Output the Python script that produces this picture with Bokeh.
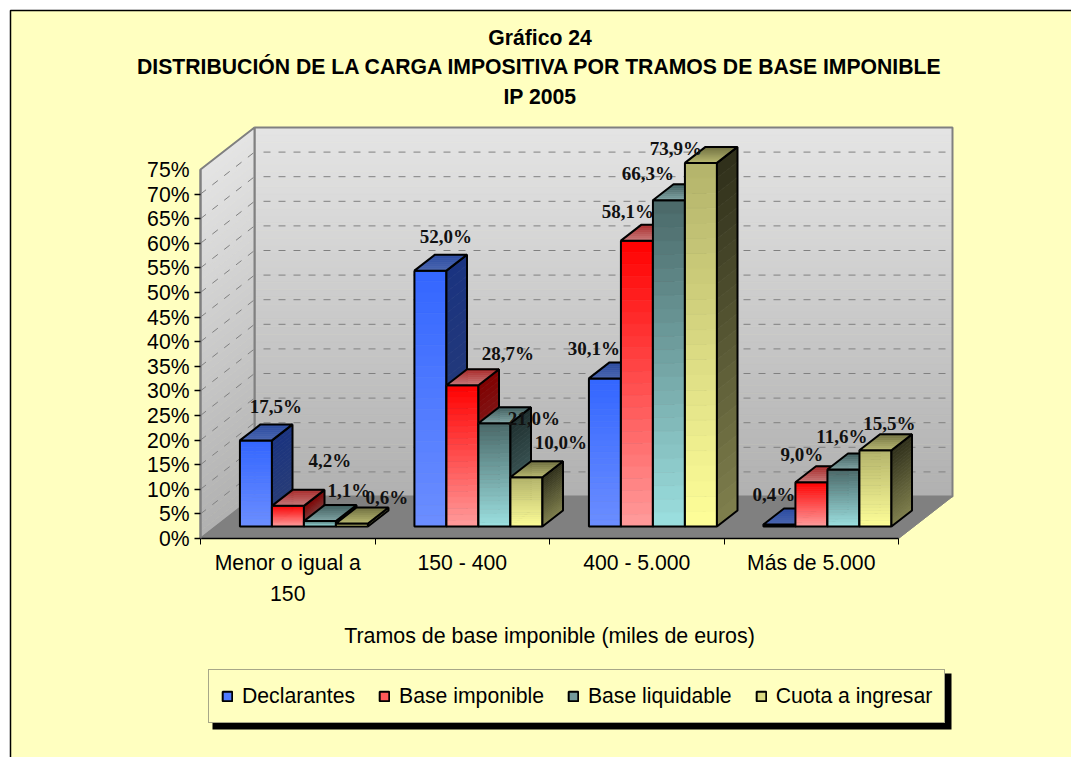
from bokeh.plotting import figure
from bokeh.models import (Range1d, FixedTicker, LinearAxis, Legend, LegendItem, Label,
                          ColumnDataSource)
from bokeh.core.properties import value
from bokeh.embed import file_html
from bokeh.resources import INLINE

# ---- data ----
title_lines = ["Gráfico 24",
               "DISTRIBUCIÓN DE LA CARGA IMPOSITIVA POR TRAMOS DE BASE IMPONIBLE",
               "IP 2005"]
categories = ["Menor o igual a\n150", "150 - 400", "400 - 5.000", "Más de 5.000"]
series_names = ["Declarantes", "Base imponible", "Base liquidable", "Cuota a ingresar"]
declarantes = [17.5, 52.0, 30.1, 0.4]
base_imponible = [4.2, 28.7, 58.1, 9.0]
base_liquidable = [1.1, 21.0, 66.3, 11.6]
cuota_ingresar = [0.6, 10.0, 73.9, 15.5]
series = [declarantes, base_imponible, base_liquidable, cuota_ingresar]
y_ticks = list(range(0, 75, 5))
y_top_tick = 75
x_title = "Tramos de base imponible (miles de euros)"

# ---- style / layout ----
W, H = 1071, 757
PAGE = 0
X0, XS = 200.0, 174.5      # page x of category 0, px per category
Y0, YS = 538.0, 4.92       # page y of 0 %, px per %
DX, DY = 54 / XS, 42 / YS  # full depth of the box, in data units
BAR_W, BAR_GAP = 32 / XS, 24 / XS
D0, D1 = 12 / 42, 28 / 42  # bar depth extent
BG = "#FFFFC0"
FONT = "Liberation Sans"
SIZE = "21.2px"
# (front top, front bottom, side top, side bottom, top back, top front)
PALETTE = [
    ("#3366FF", "#6C8EFF", "#1A3380", "#2B3F75", "#2A4AA0", "#4A66B0"),
    ("#FF0000", "#FF9C9C", "#800000", "#804848", "#A82828", "#C87878"),
    ("#4A6868", "#9CE0E0", "#1E2E2E", "#4E7070", "#3E5C5C", "#80A4A4"),
    ("#B3B36B", "#FFFF99", "#2E2E1A", "#80804D", "#6E6E40", "#B8B870"),
]
SWATCH = ["#4F7AFF", "#FF5858", "#739A9A", "#D9D982"]
# label offsets from the bar's top centre, in screen px
LABEL_DX = [20, 42, 29, 35, 15.5, 45.5, 39.5, 34.5, -11, -9, -21, -25, -5.5, -9.5, -1.5, 14]
LABEL_DY = [-34, -45, -31, -26, -34, -32, -4.5, -35, -30, -29, -27, -14, -30, -28, -33, -27]


def px(page_x):
    return (page_x - X0) / XS


def py(page_y):
    return (Y0 - page_y) / YS


def proj(x, v, d):
    return x + d * DX, v + d * DY


def mix(c0, c1, t):
    a = [int(c0[i:i + 2], 16) for i in (1, 3, 5)]
    b = [int(c1[i:i + 2], 16) for i in (1, 3, 5)]
    return "#%02X%02X%02X" % tuple(round(p + (q - p) * t) for p, q in zip(a, b))


polys = dict(xs=[], ys=[], fill=[], alpha=[], line=[], lw=[])


def add_poly(pts, fill, alpha, line, lw):
    polys["xs"].append([p[0] for p in pts])
    polys["ys"].append([p[1] for p in pts])
    polys["fill"].append(fill)
    polys["alpha"].append(alpha)
    polys["line"].append(line)
    polys["lw"].append(lw)


def lerp(a, b, t):
    return (a[0] + (b[0] - a[0]) * t, a[1] + (b[1] - a[1]) * t)


def face(a, b, c, d, c_ab, c_dc, n, outline="black", lw=2):
    """quad a-b-c-d, colour going from edge d-c (c_dc) to edge a-b (c_ab)."""
    for k in range(n):
        t0, t1 = k / n, (k + 1) / n
        col = mix(c_ab, c_dc, (t0 + t1) / 2)
        add_poly([lerp(a, d, t0), lerp(b, c, t0), lerp(b, c, t1), lerp(a, d, t1)], col, 1, col, 0.7)
    if outline:
        add_poly([a, b, c, d], "#000000", 0, outline, lw)


# ---- figure: the frame covers the whole canvas ----
p = figure(width=W, height=H, output_backend="svg", toolbar_location=None,
           x_range=Range1d(px(PAGE), px(PAGE + W)), y_range=Range1d(py(PAGE + H), py(PAGE)),
           min_border=0, outline_line_color=None, background_fill_color="white",
           border_fill_color="white", x_axis_type=None, y_axis_type=None)
p.grid.visible = False

# sheet
p.quad(left=[px(10)], right=[px(1100)], top=[py(10)], bottom=[py(800)],
       fill_color=BG, line_color="#000000", line_width=1.5)

# walls and floor
GRAY = "#808080"
TOP = 75
NCAT = len(categories)
face(proj(0, TOP, 1), proj(NCAT, TOP, 1), proj(NCAT, 0, 1), proj(0, 0, 1), "#E5E5E5", "#B0B0B0", 50, GRAY, 2)
face(proj(0, TOP, 0), proj(0, TOP, 1), proj(0, 0, 1), proj(0, 0, 0), "#E5E5E5", "#B0B0B0", 50, GRAY, 2)
face(proj(0, 0, 0), proj(NCAT, 0, 0), proj(NCAT, 0, 1), proj(0, 0, 1), GRAY, GRAY, 1, GRAY, 1)
walls = ColumnDataSource(polys)
p.patches("xs", "ys", source=walls, fill_color="fill", fill_alpha="alpha",
          line_color="line", line_width="lw")

# grid lines on the walls
grid_vals = y_ticks[1:]
p.multi_line([[proj(0, v, 0)[0], proj(0, v, 1)[0]] for v in grid_vals],
             [[proj(0, v, 0)[1], proj(0, v, 1)[1]] for v in grid_vals],
             line_color=GRAY, line_width=1, line_dash="7 8")
p.multi_line([[proj(0, v, 1)[0] + 9 / XS, proj(NCAT, v, 1)[0]] for v in grid_vals],
             [[proj(0, v, 1)[1], proj(NCAT, v, 1)[1]] for v in grid_vals],
             line_color=GRAY, line_width=1, line_dash="7 8")

# bars, painted left to right
polys = dict(xs=[], ys=[], fill=[], alpha=[], line=[], lw=[])
lab_x, lab_y, lab_t = [], [], []
for i in range(NCAT):
    for s, vals in enumerate(series):
        v = vals[i]
        c = PALETTE[s]
        x0 = i + BAR_GAP + s * BAR_W
        x1 = x0 + BAR_W
        face(proj(x0, v, D0), proj(x1, v, D0), proj(x1, 0, D0), proj(x0, 0, D0), c[0], c[1], 24)
        face(proj(x1, v, D0), proj(x1, v, D1), proj(x1, 0, D1), proj(x1, 0, D0), c[2], c[3], 24)
        face(proj(x0, v, D1), proj(x1, v, D1), proj(x1, v, D0), proj(x0, v, D0), c[4], c[5], 8)
        ax, ay = proj((x0 + x1) / 2, v, D0)
        lab_x.append(ax)
        lab_y.append(ay)
        lab_t.append(f"{v:.1f}%".replace(".", ","))
p.patches("xs", "ys", source=ColumnDataSource(polys), fill_color="fill", fill_alpha="alpha",
          line_color="line", line_width="lw")

# data labels
p.text("x", "y", "text", x_offset="dx", y_offset="dy",
       source=ColumnDataSource(dict(x=lab_x, y=lab_y, text=lab_t, dx=LABEL_DX, dy=LABEL_DY)),
       text_font=value("Liberation Serif"), text_font_style="bold", text_font_size=value("19px"),
       text_color="#111111", text_align="center", text_baseline="middle")

# y axis
yaxis = LinearAxis(fixed_location=0, ticker=FixedTicker(ticks=y_ticks), bounds=(0, 75),
                   major_label_overrides={t: f"{t}%" for t in y_ticks},
                   axis_line_color=GRAY, axis_line_width=2, major_tick_line_color="black",
                   major_tick_line_width=1.5, major_tick_out=6, major_tick_in=0,
                   minor_tick_out=0, minor_tick_in=0, major_label_standoff=5,
                   major_label_text_font=FONT, major_label_text_font_size=SIZE,
                   major_label_text_color="black")
p.add_layout(yaxis, "left")
ytop = LinearAxis(fixed_location=0, ticker=FixedTicker(ticks=[y_top_tick]), bounds=(0, 75),
                  major_label_overrides={y_top_tick: f"{y_top_tick}%"},
                  axis_line_color=None, major_tick_line_color=None,
                  major_tick_out=0, major_tick_in=0, minor_tick_out=0, minor_tick_in=0,
                  major_label_standoff=11, major_label_text_font=FONT,
                  major_label_text_font_size=SIZE, major_label_text_color="black")
p.add_layout(ytop, "left")

# x axis: ticks at category borders, labels at category centres
xticks = LinearAxis(fixed_location=0, ticker=FixedTicker(ticks=list(range(NCAT + 1))), bounds=(0, NCAT),
                    axis_line_color="black", axis_line_width=1.5, major_tick_line_color="black",
                    major_tick_line_width=1, major_tick_out=6, major_tick_in=0,
                    minor_tick_out=0, minor_tick_in=0, major_label_text_font_size="0px",
                    major_label_overrides={t: "" for t in range(NCAT + 1)})
p.add_layout(xticks, "below")
centres = [i + 0.5 for i in range(NCAT)]
xlabels = LinearAxis(fixed_location=0, ticker=FixedTicker(ticks=centres), bounds=(0, NCAT),
                     major_label_overrides=dict(zip(centres, categories)),
                     axis_line_color=None, major_tick_line_color=None, major_tick_out=0,
                     major_tick_in=0, minor_tick_out=0, minor_tick_in=0, major_label_standoff=12,
                     major_label_text_font=FONT, major_label_text_font_size=SIZE,
                     major_label_text_color="black", major_label_text_line_height=1.36,
                     axis_label=x_title, axis_label_standoff=16, axis_label_text_font=FONT,
                     axis_label_text_font_size="21.4px", axis_label_text_font_style="normal",
                     axis_label_text_color="black")
p.add_layout(xlabels, "below")

# title
for line, page_y in zip(title_lines, (37, 66, 96)):
    p.add_layout(Label(x=px(539.5), y=py(page_y), text=line, text_align="center",
                       text_baseline="middle", text_font=FONT, text_font_size=SIZE,
                       text_font_style="bold", text_color="black"))

# legend with its shadow
p.quad(left=[px(212)], right=[px(951)], top=[py(673)], bottom=[py(729)], fill_color="black", line_color=None)
items = []
for name, col in zip(series_names, SWATCH):
    r = p.rect(x=[float("nan")], y=[float("nan")], width=1, height=1,
               fill_color=col, line_color="black", line_width=2)
    items.append(LegendItem(label=name, renderers=[r]))
legend = Legend(items=items, orientation="horizontal", location=(208 - PAGE, PAGE + H - 723),
                margin=0, padding=12, spacing=23, glyph_width=12, glyph_height=12, label_standoff=9,
                label_text_font=FONT, label_text_font_size=SIZE, label_text_color="black",
                label_height=28, border_line_color="#505050", border_line_width=1.5,
                background_fill_color=BG, background_fill_alpha=1)
p.add_layout(legend, "center")

open("out.html", "w").write(file_html(p, INLINE))
